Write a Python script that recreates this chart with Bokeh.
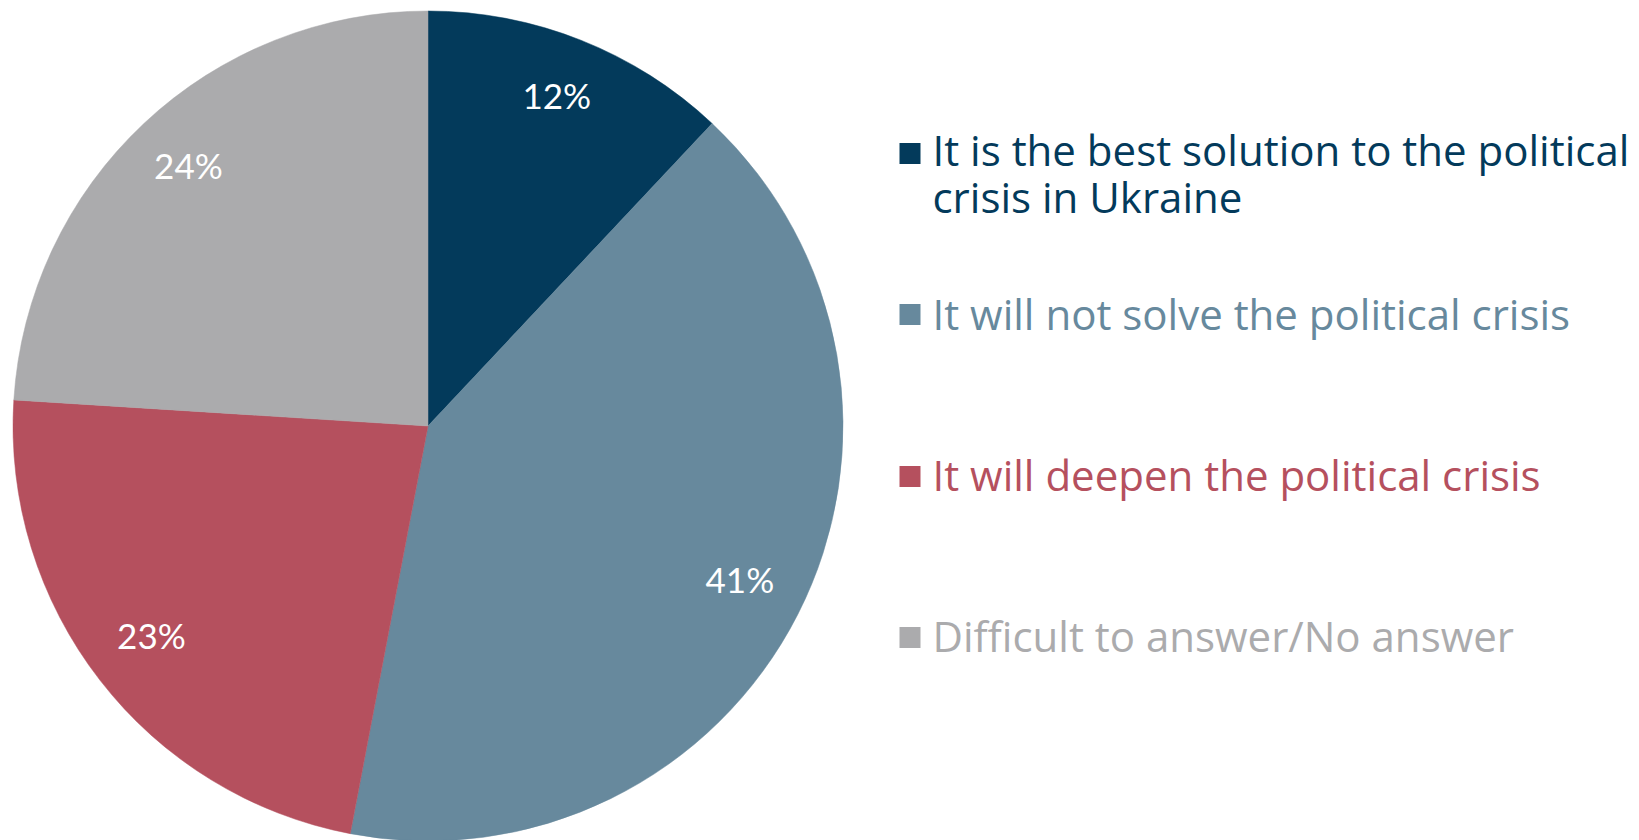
import math
from bokeh.plotting import figure
from bokeh.models import Range1d
from bokeh.core.properties import value
from bokeh.embed import file_html
from bokeh.resources import INLINE

categories = [
    "It is the best solution to the political\ncrisis in Ukraine",
    "It will not solve the political crisis",
    "It will deepen the political crisis",
    "Difficult to answer/No answer",
]
values = [12, 41, 23, 24]
colors = ["#033A5B", "#67899D", "#B5505E", "#ABABAD"]

W, H = 1639, 840
p = figure(width=W, height=H, output_backend="svg", toolbar_location=None,
           x_axis_type=None, y_axis_type=None, min_border=0,
           x_range=Range1d(0, W), y_range=Range1d(0, H))
p.grid.visible = False
p.outline_line_color = None
p.background_fill_color = "white"


def Y(py):
    return H - py


cx, cy, R = 427.5, Y(425.5), 415
total = sum(values)
starts, ends, mids = [], [], []
cum = 0.0
for v in values:
    a0 = math.pi / 2 - 2 * math.pi * cum / total
    cum += v
    a1 = math.pi / 2 - 2 * math.pi * cum / total
    starts.append(a0)
    ends.append(a1)
    mids.append((a0 + a1) / 2)

p.wedge(x=[cx] * 4, y=[cy] * 4, radius=R, start_angle=starts, end_angle=ends,
        direction="clock", fill_color=colors, line_color=colors, line_width=0.5)

lr = 350
lx = [cx + lr * math.cos(m) for m in mids]
ly = [cy + lr * math.sin(m) + 6 for m in mids]
p.text(x=lx, y=ly, text=[f"{v}%" for v in values], text_color="white",
       text_font=value("Lato"), text_font_size="35px", text_align="center",
       text_baseline="middle")

# legend
sq_x = 909.5
tx = 932
sq_y = [Y(153), Y(314), Y(476), Y(637)]
txt_y = [Y(149), Y(313), Y(474), Y(635)]
p.rect(x=[sq_x] * 4, y=sq_y, width=21, height=21, fill_color=colors, line_color=None)
for cat, col, ty in zip(categories, colors, txt_y):
    for i, line in enumerate(cat.split("\n")):
        p.text(x=[tx], y=[ty - i * 47], text=[line], text_color=col,
               text_font=value("Open Sans"), text_font_size="42px", text_align="left",
               text_baseline="middle")

open("out.html", "w").write(file_html(p, INLINE))
